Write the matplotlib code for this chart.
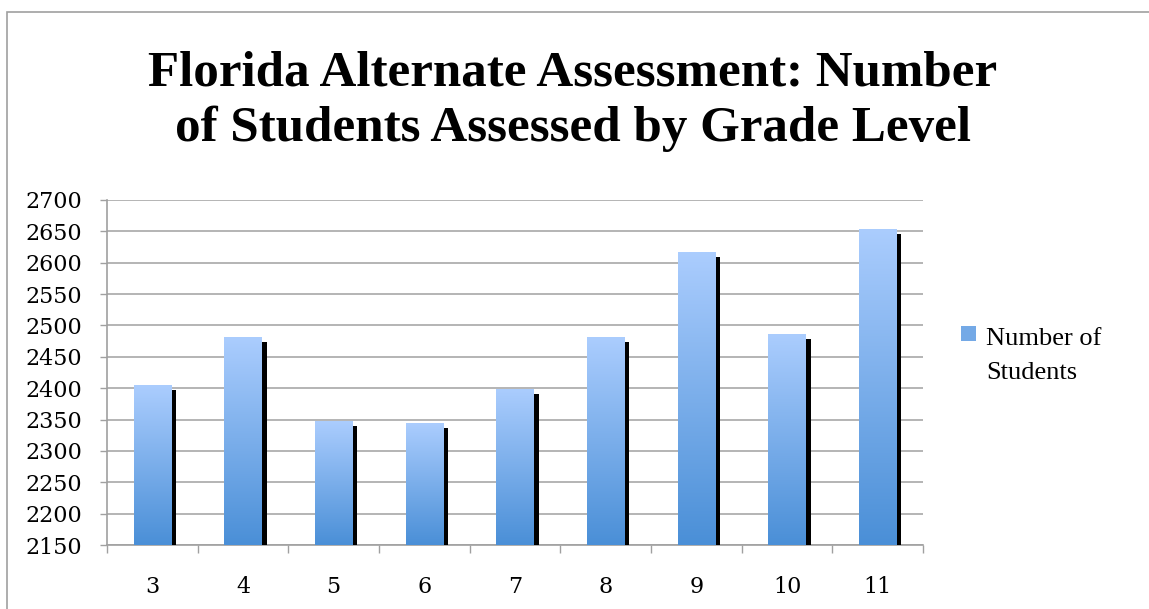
import matplotlib
matplotlib.use("Agg")
import matplotlib.pyplot as plt
import matplotlib.patheffects as pe
from matplotlib.patches import Rectangle, Patch
from matplotlib.legend_handler import HandlerPatch
from matplotlib.colors import LinearSegmentedColormap
import numpy as np

grades = ["3", "4", "5", "6", "7", "8", "9", "10", "11"]
students = [2405, 2481, 2347, 2344, 2399, 2481, 2617, 2486, 2654]
yticks = [2150, 2200, 2250, 2300, 2350, 2400, 2450, 2500, 2550, 2600, 2650, 2700]
title = "Florida Alternate Assessment: Number\nof Students Assessed by Grade Level"
series_name = "Number of\nStudents"

W, H = 1149, 609
fig = plt.figure(figsize=(W / 100, H / 100), dpi=100)
fig.patch.set_facecolor("white")

# outer frame
fig.add_artist(Rectangle((7 / W, -0.1), 1.2, (H - 12) / H + 0.1,
                         transform=fig.transFigure, fill=False,
                         edgecolor="#a0a0a0", lw=1.2, clip_on=False))

ax = fig.add_axes([107 / W, (H - 545) / H, (923 - 107) / W, (545 - 200) / H])
x = np.arange(len(grades))
bars = ax.bar(x, [v - yticks[0] for v in students], bottom=yticks[0], width=0.41,
              color="#79ace8", zorder=3,
              path_effects=[pe.SimplePatchShadow(offset=(3.6, -3.6),
                                                 shadow_rgbFace="black", alpha=1.0),
                            pe.Normal()])

# gradient fill
grad = np.linspace(0, 1, 256).reshape(-1, 1)
cmap = LinearSegmentedColormap.from_list("g", ["#4a8fd7", "#abcdfe"])
for b in bars:
    x0, y0 = b.get_x(), b.get_y()
    im = ax.imshow(grad, cmap=cmap, origin="lower", aspect="auto",
                   extent=[x0, x0 + b.get_width(), y0, y0 + b.get_height()],
                   zorder=4, interpolation="bilinear")
    im.set_clip_path(b)

ax.set_xlim(-0.5, len(grades) - 0.5)
ax.set_ylim(yticks[0], yticks[-1])
ax.set_yticks(yticks)
ax.set_yticklabels([str(t) for t in yticks])
ax.yaxis.grid(True, color="#a8a8a8", lw=1.2, zorder=0)
ax.set_axisbelow(True)

ax.set_xticks(np.arange(len(grades) + 1) - 0.5)
ax.set_xticklabels([])
ax.set_xticks(x, minor=True)
ax.set_xticklabels(grades, minor=True)
ax.tick_params(axis="x", which="major", length=6, color="#a0a0a0", width=1)
ax.tick_params(axis="x", which="minor", length=0, pad=22, labelsize=16)
ax.tick_params(axis="y", length=5, color="#a0a0a0", width=1, pad=13, labelsize=16)
for lab in ax.get_yticklabels() + ax.get_xticklabels(minor=True):
    lab.set_fontfamily("DejaVu Serif")

for s in ["top", "right"]:
    ax.spines[s].set_visible(False)
for s in ["left", "bottom"]:
    ax.spines[s].set_color("#a0a0a0")
    ax.spines[s].set_linewidth(1.2)

# title scaled to target width
t = fig.text(573 / W, 1 - 51 / H, title, ha="center", va="top",
             fontfamily="Liberation Serif", fontweight="bold", fontsize=36,
             linespacing=1.25)
fig.canvas.draw()
line1 = fig.text(0, 0, title.split("\n")[0], fontfamily="Liberation Serif",
                 fontweight="bold", fontsize=36)
wpx = line1.get_window_extent(fig.canvas.get_renderer()).width
line1.remove()
t.set_fontsize(36 * 850 / wpx)


class ShiftedHandler(HandlerPatch):
    def create_artists(self, legend, orig_handle, xdescent, ydescent, width,
                       height, fontsize, trans):
        p = Rectangle((-xdescent, -ydescent + 0.82 * fontsize), width, height,
                      facecolor="#74a9e6", edgecolor="none", transform=trans)
        return [p]


handle = Patch(facecolor="#74a9e6")
leg = ax.legend([handle], [series_name], loc="center left",
                bbox_to_anchor=(961 / W, 1 - 356 / H), bbox_transform=fig.transFigure,
                frameon=False, borderpad=0, borderaxespad=0,
                handlelength=0.55, handleheight=0.55, handletextpad=0.4,
                prop={"family": "Liberation Serif", "size": 19},
                handler_map={Patch: ShiftedHandler()})
for txt in leg.get_texts():
    txt.set_linespacing(1.65)

fig.savefig("out.png", dpi=100, facecolor="white")
